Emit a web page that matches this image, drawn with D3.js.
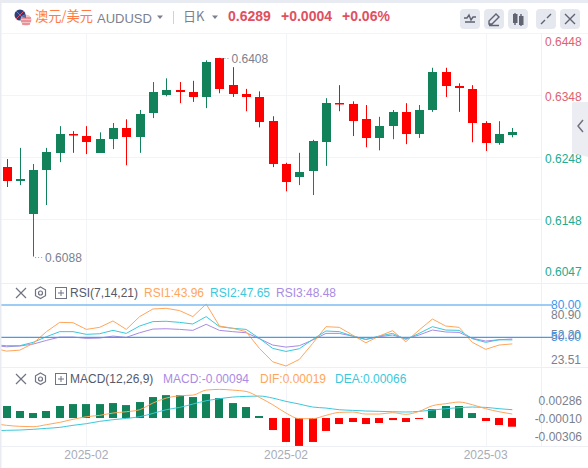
<!DOCTYPE html>
<html>
<head>
<meta charset="utf-8">
<script src="https://cdn.jsdelivr.net/npm/d3@7"></script>
<style>
  html, body { margin: 0; padding: 0; background: #fff; }
  text { font-family: "Liberation Sans", Arial, sans-serif; }
</style>
</head>
<body>
<div id="chart"></div>
<script>
var svgWidth = 588;
var svgHeight = 468;

var opens = [.6232,.6210,.6156,.6227,.6255,.6286,.6282,.6255,.6277,.6295,.6280,.6319,.6348,.6356,.6353,.6345,.6408,.6364,.6350,.6345,.6306,.6237,.6216,.6226,.6272,.6336,.6334,.6309,.6279,.6298,.6321,.6285,.6324,.6385,.6362,.6358,.6303,.6271,.6284];
var highs = [.6245,.6263,.6237,.6263,.6298,.6290,.6298,.6288,.6303,.6309,.6324,.6369,.6375,.6369,.6371,.6404,.6408,.6393,.6358,.6354,.6314,.6239,.6255,.6276,.6343,.6364,.6338,.6332,.6313,.6324,.6335,.6332,.6392,.6392,.6367,.6364,.6306,.6306,.6295];
var lows = [.6200,.6203,.6088,.6171,.6240,.6255,.6253,.6255,.6261,.6235,.6255,.6311,.6346,.6335,.6337,.6327,.6351,.6345,.6322,.6296,.6232,.6193,.6203,.6187,.6234,.6322,.6282,.6264,.6259,.6277,.6269,.6279,.6321,.6345,.6321,.6272,.6258,.6268,.6280];
var closes = [.6210,.6213,.6227,.6256,.6285,.6284,.6272,.6277,.6295,.6280,.6317,.6353,.6356,.6353,.6345,.6401,.6358,.6350,.6345,.6305,.6237,.6208,.6224,.6274,.6335,.6334,.6306,.6279,.6298,.6321,.6285,.6324,.6385,.6362,.6358,.6303,.6271,.6285,.6289];

// line series start one bar before the first candle, off the left edge
var rsi1 = [40.1,37.3,38.2,44.4,55.3,63.9,63.6,57.4,59.3,65.2,57.4,69.2,76.3,76.9,74.8,69.2,80.9,60.5,58.4,55.3,39.8,27.4,23.51,29.6,44.4,59.9,59.3,52.2,45.0,51.2,56.2,46.0,56.8,67.0,60.5,59.3,45.4,38.9,42.9,43.96];
var rsi2 = [43.2,42.3,42.3,45.4,50.6,55.3,55.3,52.8,53.4,56.5,53.7,60.5,64.6,64.9,63.9,62.4,69.2,59.9,58.4,57.4,49.1,39.8,37.0,39.5,48.1,55.9,55.3,51.2,48.1,51.2,53.7,48.1,53.7,59.9,56.8,56.5,48.8,45.4,47.8,47.65];
var rsi3 = [42.6,41.3,42.0,43.8,47.2,50.3,50.3,49.1,49.4,51.2,50.0,54.3,57.7,58.0,57.4,56.5,62.1,56.5,55.3,54.3,48.8,42.9,41.0,42.3,47.5,53.7,53.7,51.2,48.1,50.6,52.2,48.8,52.2,56.8,55.0,54.6,49.1,46.6,47.8,48.48];
var dif = [-.00058,-.00079,-.00090,-.00094,-.00072,-.00047,-.00014,.00014,.00029,.00054,.00068,.00090,.00162,.00216,.00241,.00248,.00302,.00310,.00302,.00288,.00223,.00144,.00054,-.00007,-.00007,.00029,.00061,.00065,.00043,.00043,.00058,.00040,.00072,.00133,.00155,.00173,.00144,.00101,.00068,.00043];
var dea = [-.00137,-.00133,-.00130,-.00122,-.00112,-.00101,-.00079,-.00061,-.00036,-.00018,-.00004,.00014,.00050,.00090,.00115,.00151,.00187,.00209,.00227,.00234,.00238,.00216,.00180,.00151,.00119,.00108,.00090,.00083,.00076,.00072,.00068,.00065,.00072,.00086,.00101,.00112,.00119,.00115,.00101,.00090];

var macdBars = [.00130,.00076,.00054,.00076,.00130,.00151,.00151,.00151,.00162,.00140,.00173,.00227,.00248,.00248,.00227,.00259,.00216,.00162,.00119,.00022,-.00130,-.00259,-.00302,-.00259,-.00140,-.00065,-.00043,-.00065,-.00054,-.00022,-.00043,-.00011,.00097,.00130,.00130,.00054,-.00032,-.00076,-.00094];

var priceTicks = [.6448,.6348,.6248,.6148,.6047];
var rsiTicks = [80.90,52.20,23.51];
var macdTicks = [.00286,-.00010,-.00306];
var dateTicks = [{i: 6, label: "2025-02"}, {i: 21, label: "2025-02"}, {i: 36, label: "2025-03"}];

var red = "#ff0000";
var green = "#11825a";
var orange = "#ffa65c";
var cyan = "#3cc8dc";
var purple = "#a98be4";
var gridColor = "#f3f4f8";
var grey = "#7b7f8e";

var svg = d3.select("#chart")
    .append("svg")
    .attr("width", svgWidth)
    .attr("height", svgHeight)
    .style("display", "block");

var xScale = d3.scaleLinear().domain([0, 38]).range([6.5, 512.3]);
var yPrice = d3.scaleLinear().domain([.6047, .6448]).range([282, 33]);
var yRsi = d3.scaleLinear().domain([23.51, 80.9]).range([366, 304]);
var yMacd = d3.scaleLinear().domain([-.00306, .00286]).range([446.3, 391.6]);

// grid
function hLine(y, x2, color) {
    svg.append("line").attr("x1", 0).attr("x2", x2).attr("y1", y).attr("y2", y)
        .attr("stroke", color).attr("stroke-width", 1);
}
hLine(33.5, 588, gridColor);
hLine(283.5, 588, "#edeff4");
hLine(367.5, 588, "#edeff4");
hLine(446.5, 588, "#edeff4");
[.6348, .6248, .6148].forEach(function(p) {
    hLine(Math.round(yPrice(p)) + .5, 542, gridColor);
});

svg.selectAll(".vgrid")
    .data(dateTicks)
    .enter()
    .append("line")
    .attr("class", "vgrid")
    .attr("x1", d => Math.round(xScale(d.i)) + .5)
    .attr("x2", d => Math.round(xScale(d.i)) + .5)
    .attr("y1", 34)
    .attr("y2", 446)
    .attr("stroke", gridColor);

svg.append("line").attr("x1", 541.5).attr("x2", 541.5).attr("y1", 34).attr("y2", 446).attr("stroke", "#eef0f5");

// candles
var candles = svg.append("g").selectAll("g")
    .data(opens.map(function(o, i) { return i; }))
    .enter()
    .append("g")
    .attr("fill", i => closes[i] >= opens[i] ? green : red)
    .attr("stroke", i => closes[i] >= opens[i] ? green : red);

candles.append("line")
    .attr("x1", i => Math.round(xScale(i)) + .5)
    .attr("x2", i => Math.round(xScale(i)) + .5)
    .attr("y1", i => yPrice(highs[i]))
    .attr("y2", i => yPrice(lows[i]));

candles.append("rect")
    .attr("x", i => Math.round(xScale(i)) - 4)
    .attr("width", 9)
    .attr("y", i => Math.round(yPrice(Math.max(opens[i], closes[i]))))
    .attr("height", i => Math.max(1.5, Math.round(Math.abs(yPrice(opens[i]) - yPrice(closes[i])))))
    .attr("stroke", "none");

// high and low markers
function extreme(i, value) {
    var y = Math.round(yPrice(value)) + .5;
    svg.append("line")
        .attr("x1", xScale(i) + 2).attr("x2", xScale(i) + 11)
        .attr("y1", y).attr("y2", y)
        .attr("stroke", "#9a9dab").attr("stroke-dasharray", "1,2");
    svg.append("text")
        .attr("x", xScale(i) + 12).attr("y", y + 4)
        .attr("font-size", 12).attr("fill", grey)
        .text(value.toFixed(4));
}
extreme(16, .6408);
extreme(2, .6088);

// price axis
function clampLabel(y, lo, hi) {
    return Math.min(hi, Math.max(lo, y));
}
svg.selectAll(".priceTick")
    .data(priceTicks)
    .enter()
    .append("text")
    .attr("class", "priceTick")
    .attr("x", 545)
    .attr("y", d => clampLabel(yPrice(d) + 2, 42, 272) + 4)
    .attr("font-size", 12)
    .attr("fill", d => d > .6289 ? "#e0616e" : "#22ab8e")
    .text(d => d.toFixed(4));

// rsi pane
var rsiLine = d3.line().x((d, i) => xScale(i - 1)).y(d => yRsi(d));

svg.selectAll(".rsiTick")
    .data(rsiTicks)
    .enter()
    .append("text")
    .attr("class", "rsiTick")
    .attr("x", 551)
    .attr("y", d => clampLabel(yRsi(d), 315, 360) + 4)
    .attr("font-size", 12)
    .attr("fill", grey)
    .text(d => d.toFixed(2));

[[rsi3, purple], [rsi2, cyan], [rsi1, orange]].forEach(function(s) {
    svg.append("path").attr("d", rsiLine(s[0])).attr("fill", "none")
        .attr("stroke", s[1]).attr("stroke-width", 1);
});

[80, 50].forEach(function(v) {
    var y = yRsi(v);
    svg.append("line").attr("x1", 0).attr("x2", 552).attr("y1", y).attr("y2", y)
        .attr("stroke", v == 80 ? "#7dbcf0" : "#4a9be6").attr("stroke-width", v == 80 ? 1.5 : 1.2);
    svg.append("text").attr("x", 551).attr("y", y + 4).attr("font-size", 12)
        .attr("fill", "#3a97ee").text(v.toFixed(2));
});

// macd pane
svg.selectAll(".macdBar")
    .data(macdBars)
    .enter()
    .append("rect")
    .attr("class", "macdBar")
    .attr("x", (d, i) => Math.round(xScale(i)) - 4)
    .attr("width", 8)
    .attr("y", d => d > 0 ? yMacd(d) : yMacd(0))
    .attr("height", d => Math.abs(yMacd(d) - yMacd(0)))
    .attr("fill", d => d > 0 ? green : red);

var macdLine = d3.line().x((d, i) => xScale(i - 1)).y(d => yMacd(d)).curve(d3.curveMonotoneX);
[[dea, cyan], [dif, orange]].forEach(function(s) {
    svg.append("path").attr("d", macdLine(s[0])).attr("fill", "none")
        .attr("stroke", s[1]).attr("stroke-width", 1);
});

svg.selectAll(".macdTick")
    .data(macdTicks)
    .enter()
    .append("text")
    .attr("class", "macdTick")
    .attr("x", 582)
    .attr("y", d => clampLabel(yMacd(d), 401, 437) + 4)
    .attr("text-anchor", "end")
    .attr("font-size", 12)
    .attr("fill", grey)
    .text(d => d.toFixed(5));

// date axis
svg.selectAll(".dateTick")
    .data(dateTicks)
    .enter()
    .append("text")
    .attr("class", "dateTick")
    .attr("x", d => xScale(d.i))
    .attr("y", 459)
    .attr("text-anchor", "middle")
    .attr("font-size", 12)
    .attr("fill", "#a9acb9")
    .text(d => d.label);

// page frame
svg.append("rect").attr("width", svgWidth).attr("height", 3).attr("fill", "#e8ebf2");
svg.append("rect").attr("y", 3).attr("width", 1.5).attr("height", svgHeight).attr("fill", "#e8ebf2");

// header
function label(x, y, str, size, color, weight) {
    return svg.append("text").attr("x", x).attr("y", y).attr("font-size", size)
        .attr("fill", color).attr("font-weight", weight || 400).text(str);
}
svg.append("circle").attr("cx", 20).attr("cy", 15).attr("r", 5.5).attr("fill", "#2b3f7d");
svg.append("path").attr("d", "M16 11l8 8M24 11l-8 8").attr("stroke", "#e0505f").attr("stroke-width", 1);
svg.append("circle").attr("cx", 26).attr("cy", 20).attr("r", 5.5).attr("fill", "#f3c3c6");
svg.append("path").attr("d", "M21 18h10M21 21h10M22 24h8").attr("stroke", "#e0606b").attr("stroke-width", 1);
svg.append("path").attr("d", "M21.5 17a5.5 5.5 0 0 1 4.5 -2.5v3.5z").attr("fill", "#5a6aa0");

label(35, 21, "澳元/美元", 13.2, "#ff7a45").style("font-family", '"Noto Sans CJK SC", sans-serif');
label(97, 23, "AUDUSD", 13, grey);
svg.append("path").attr("d", "M157 15.5h6l-3 3.5z").attr("fill", "#7b7f8e");
svg.append("line").attr("x1", 173.5).attr("x2", 173.5).attr("y1", 11).attr("y2", 24).attr("stroke", "#cfd2dc");
label(183, 21, "日K", 13, grey).style("font-family", '"Noto Sans CJK SC", sans-serif');
svg.append("path").attr("d", "M212 15.5h6l-3 3.5z").attr("fill", "#7b7f8e");
label(228, 21, "0.6289", 14, "#e0505f", 700);
label(281, 21, "+0.0004", 14, "#e0505f", 700);
label(342, 21, "+0.06%", 14, "#e0505f", 700);

// toolbar buttons
var buttonX = [460, 484, 508, 536, 560];
var buttonIcons = [
    "M5 13h10M4 9h3l2 -3 2 5 2 -3h3",
    "M5 12l7 -7 3 3 -7 7h-3zM5 16.5h10",
    "M7 4v12M13 5v12",
    "M5 15l4 -4M15 5l-4 4",
    "M5 5l10 10M15 5l-10 10"
];
var buttons = svg.selectAll(".btn")
    .data(buttonX)
    .enter()
    .append("g")
    .attr("class", "btn")
    .attr("transform", d => `translate(${d}, 9)`);
buttons.append("rect").attr("width", 20).attr("height", 20).attr("rx", 4).attr("fill", "#e6e8f0");
buttons.append("path").attr("d", (d, i) => buttonIcons[i]).attr("fill", "none")
    .attr("stroke", "#5f6372").attr("stroke-width", 1.4);
[[513, 14, 9], [519, 16, 9]].forEach(function(b) {
    svg.append("rect").attr("x", b[0]).attr("y", b[1]).attr("width", 4.5).attr("height", b[2])
        .attr("fill", "#5f6372");
});

// side tab
svg.append("path").attr("d", "M588 102h-14a2 2 0 0 0 -2 2v49l16 4z").attr("fill", "#ecedf3");
svg.append("path").attr("d", "M583 120l-5 6 5 6").attr("fill", "none").attr("stroke", "#6f7382").attr("stroke-width", 1.5);

// pane headers
function paneIcons(y) {
    svg.append("path").attr("d", `M16 ${y - 5}l10 10M26 ${y - 5}l-10 10`).attr("stroke", "#6f7382").attr("stroke-width", 1.2).attr("fill", "none");
    svg.append("path").attr("d", `M40.5 ${y - 6}l5 2.8v5.9l-5 2.8 -5 -2.8v-5.9z`).attr("stroke", "#6f7382").attr("stroke-width", 1.2).attr("fill", "none");
    svg.append("circle").attr("cx", 40.5).attr("cy", y).attr("r", 2).attr("stroke", "#6f7382").attr("stroke-width", 1.2).attr("fill", "none");
    svg.append("rect").attr("x", 55.5).attr("y", y - 5.5).attr("width", 11).attr("height", 11).attr("stroke", "#6f7382").attr("fill", "none");
    svg.append("path").attr("d", `M58 ${y}h6M61 ${y - 3}v6`).attr("stroke", "#6f7382").attr("fill", "none");
}
paneIcons(293);
label(70, 297, "RSI(7,14,21)", 12, "#55596a");
label(144, 297, "RSI1:43.96", 12, orange);
label(210, 297, "RSI2:47.65", 12, cyan);
label(276, 297, "RSI3:48.48", 12, purple);

paneIcons(379);
label(70, 383, "MACD(12,26,9)", 12, "#55596a");
label(163, 383, "MACD:-0.00094", 12, purple);
label(260, 383, "DIF:0.00019", 12, orange);
label(335, 383, "DEA:0.00066", 12, cyan);
</script>
</body>
</html>
